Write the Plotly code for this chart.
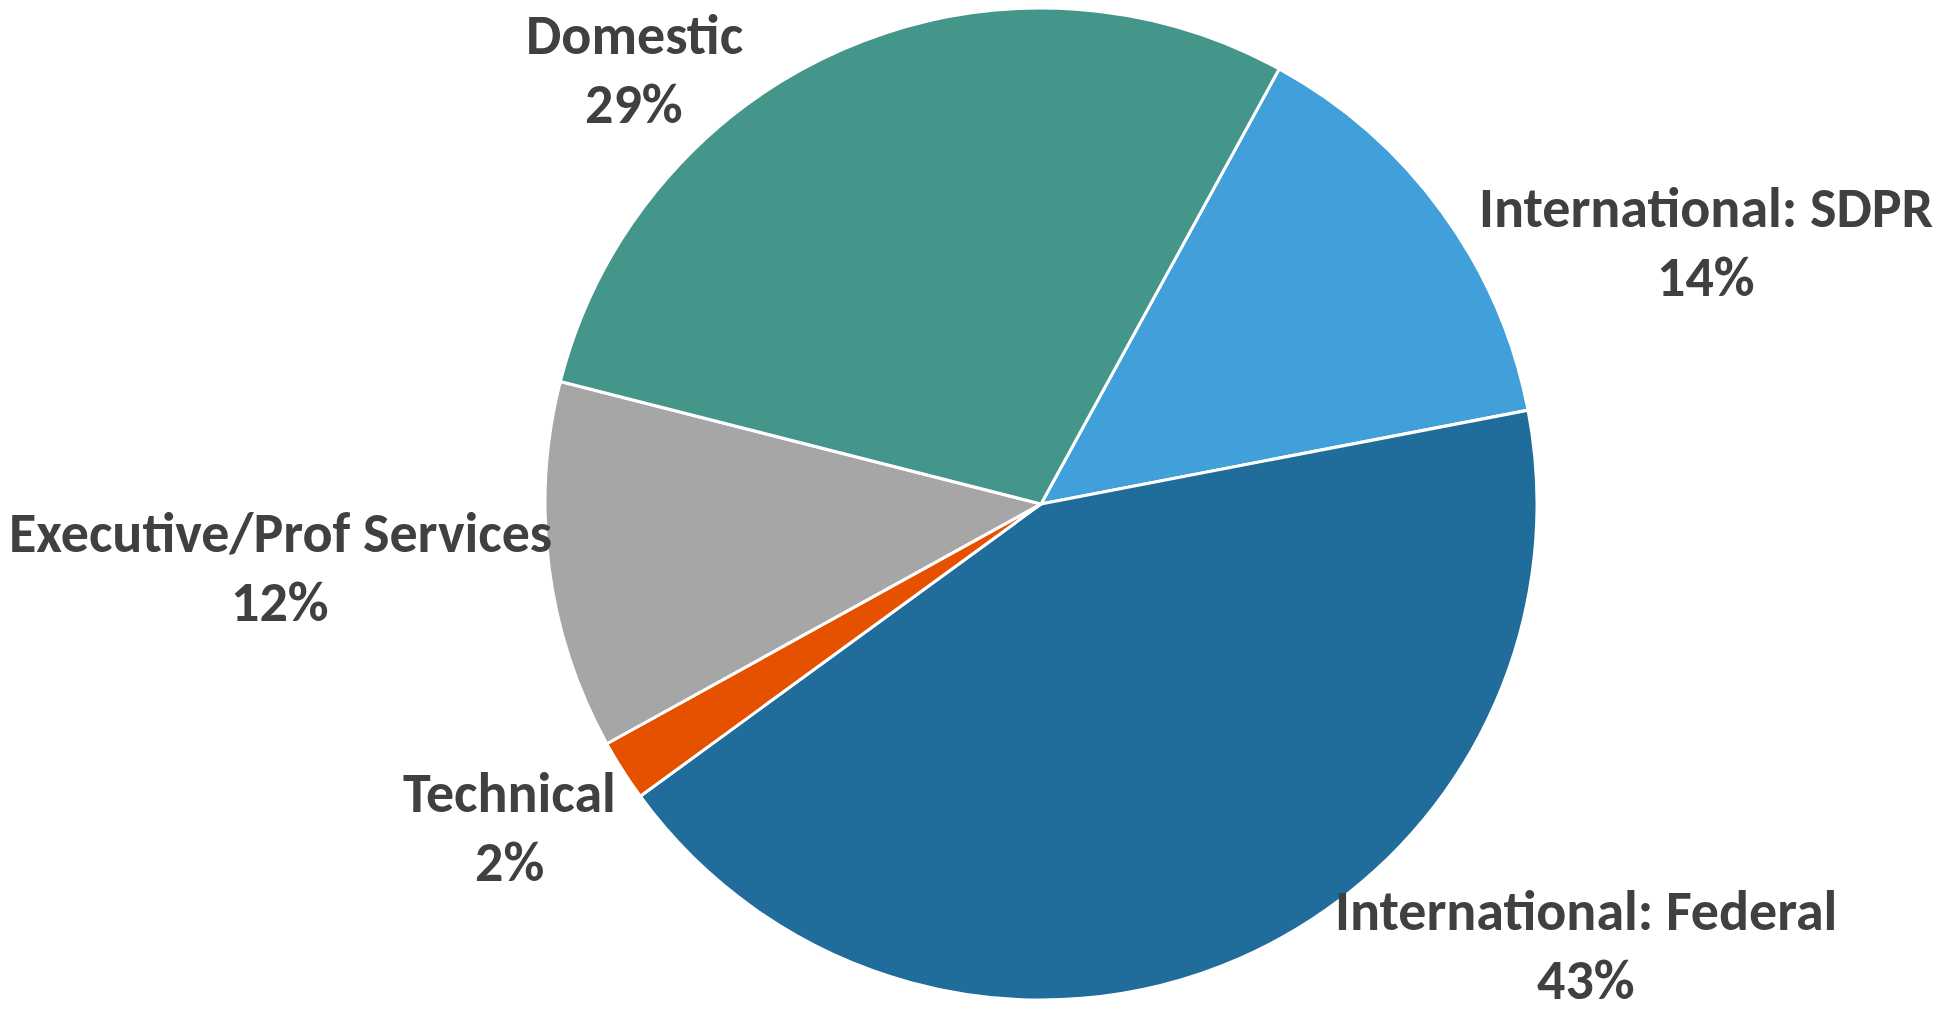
import plotly.graph_objects as go

categories = ["International: SDPR", "International: Federal", "Technical",
              "Executive/Prof Services", "Domestic"]
shares = [14, 43, 2, 12, 29]
colors = ["#419FD9", "#206C9B", "#E65100", "#A6A6A6", "#44958A"]

W, H = 1941, 1017
cx, cy, r = 1041, 504, 496
FS = 56
LINE_GAP = 69

# label anchors: pixel x centre and baseline of first line
label_pos = {
    "International: SDPR": (1706, 230),
    "International: Federal": (1586, 933),
    "Technical": (509, 815),
    "Executive/Prof Services": (280, 555),
    "Domestic": (634, 57),
}

fig = go.Figure(go.Pie(
    labels=categories,
    values=shares,
    sort=False,
    direction="clockwise",
    rotation=28.7,
    marker=dict(colors=colors, line=dict(color="white", width=3)),
    textinfo="none",
    showlegend=False,
    hoverinfo="label+percent",
    domain=dict(x=[(cx - r) / W, (cx + r) / W], y=[(H - cy - r) / H, (H - cy + r) / H]),
))

total = sum(shares)
font = dict(family="Calibri, Carlito, Lato", size=FS, color="#404040", weight="bold")
for cat, val in zip(categories, shares):
    px, base = label_pos[cat]
    lines = [cat, f"{round(100 * val / total)}%"]
    for i, txt in enumerate(lines):
        yc = base + i * LINE_GAP - 0.39 * FS
        fig.add_annotation(
            x=px / W, y=1 - yc / H, xref="paper", yref="paper",
            xanchor="center", yanchor="middle", align="center",
            text=txt, showarrow=False, font=font,
        )

fig.update_layout(
    width=W, height=H,
    margin=dict(l=0, r=0, t=0, b=0),
    paper_bgcolor="white",
    plot_bgcolor="white",
    font=dict(family="Lato", color="#404040"),
)

fig.write_html("out.html")
